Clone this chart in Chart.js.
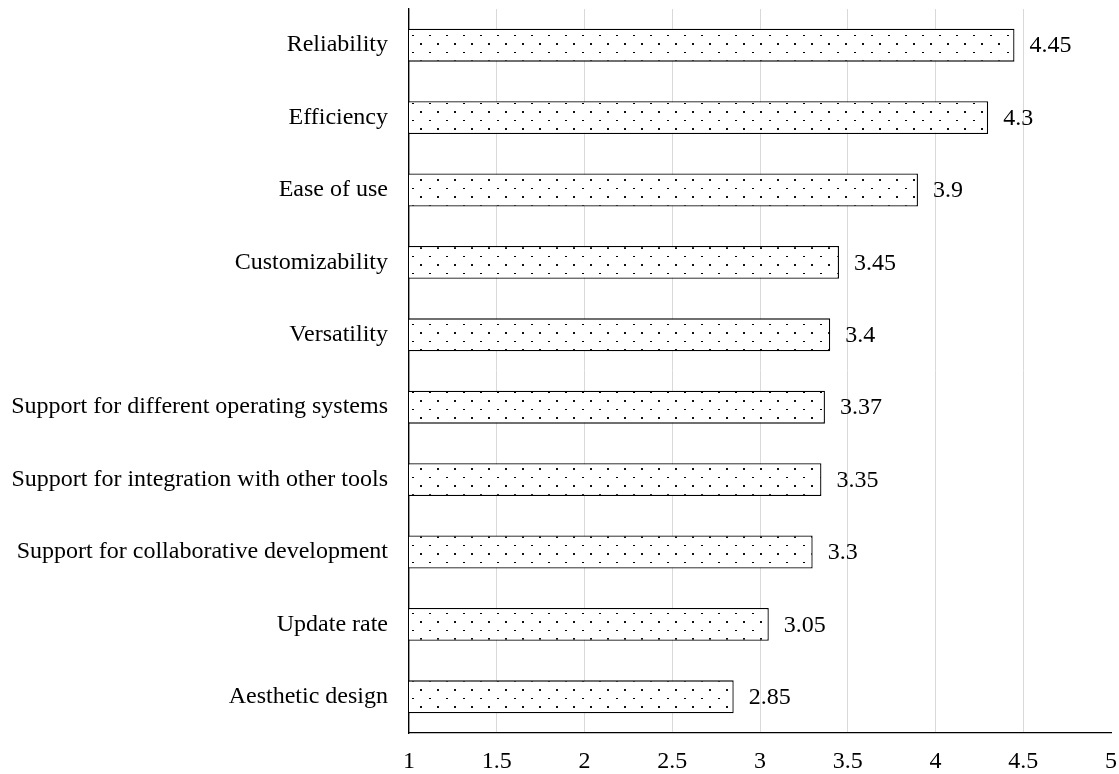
<!DOCTYPE html>
<html>
<head>
<meta charset="utf-8">
<script src="https://cdn.jsdelivr.net/npm/chart.js@4/dist/chart.umd.min.js"></script>
<style>
  html, body { margin: 0; padding: 0; background: #ffffff; }
  #wrap { width: 1119px; height: 774px; position: relative; }
</style>
</head>
<body>
<div id="wrap"><canvas id="c"></canvas></div>
<script>
const categories = [
  "Reliability",
  "Efficiency",
  "Ease of use",
  "Customizability",
  "Versatility",
  "Support for different operating systems",
  "Support for integration with other tools",
  "Support for collaborative development",
  "Update rate",
  "Aesthetic design"
];
const scores = [4.45, 4.3, 3.9, 3.45, 3.4, 3.37, 3.35, 3.3, 3.05, 2.85];
const xTickValues = [1, 1.5, 2, 2.5, 3, 3.5, 4, 4.5, 5];

function makeDotPattern() {
  const t = document.createElement('canvas');
  t.width = 17; t.height = 17;
  const g = t.getContext('2d');
  g.fillStyle = '#ffffff';
  g.fillRect(0, 0, 17, 17);
  g.fillStyle = '#000000';
  g.fillRect(4, 1, 2, 1);
  g.fillStyle = '#111111';
  g.fillRect(12, 9, 2, 2);
  return g.createPattern(t, 'repeat');
}

const FONT = "'Liberation Serif', 'Times New Roman', serif";

const valueLabels = {
  id: 'valueLabels',
  afterDatasetsDraw(chart) {
    const ctx = chart.ctx;
    const meta = chart.getDatasetMeta(0);
    ctx.save();
    ctx.font = "24px " + FONT;
    ctx.fillStyle = '#000000';
    ctx.textAlign = 'left';
    ctx.textBaseline = 'middle';
    meta.data.forEach((bar, i) => {
      ctx.fillText(String(scores[i]), bar.x + 15, bar.y + 1);
    });
    ctx.restore();
  }
};

new Chart(document.getElementById('c'), {
  type: 'bar',
  data: {
    labels: categories,
    datasets: [{
      data: scores,
      backgroundColor: makeDotPattern(),
      borderColor: '#000000',
      borderWidth: 1.3,
      borderSkipped: false,
      categoryPercentage: 1,
      barPercentage: 0.455
    }]
  },
  options: {
    indexAxis: 'y',
    responsive: true,
    maintainAspectRatio: false,
    animation: false,
    layout: { padding: { top: 9, right: 8, bottom: 0, left: 0 } },
    plugins: {
      legend: { display: false },
      tooltip: { enabled: false }
    },
    scales: {
      x: {
        type: 'linear',
        min: 1,
        max: 5,
        afterBuildTicks(scale) {
          scale.ticks = xTickValues.map(v => ({ value: v }));
        },
        afterFit(scale) {
          scale.height = 41;
          scale.paddingLeft = 0;
          scale.paddingRight = 0;
        },
        grid: {
          color: (ctx) => (ctx.tick && ctx.tick.value === 5) ? 'rgba(0,0,0,0)' : '#d9d9d9',
          lineWidth: 1,
          drawTicks: false
        },
        border: { display: true, color: '#000000', width: 1.3 },
        ticks: {
          padding: 14,
          color: '#000000',
          font: { family: FONT, size: 24 },
          maxRotation: 0,
          autoSkip: false,
          callback: (v) => String(v)
        }
      },
      y: {
        afterFit(scale) {
          scale.width = 409;
          scale.paddingTop = 0;
          scale.paddingBottom = 0;
        },
        grid: { display: false, drawTicks: false },
        border: { display: true, color: '#000000', width: 1.3 },
        ticks: {
          padding: 21,
          color: '#000000',
          autoSkip: false,
          font: { family: FONT, size: 24 }
        }
      }
    }
  },
  plugins: [valueLabels]
});
</script>
</body>
</html>
